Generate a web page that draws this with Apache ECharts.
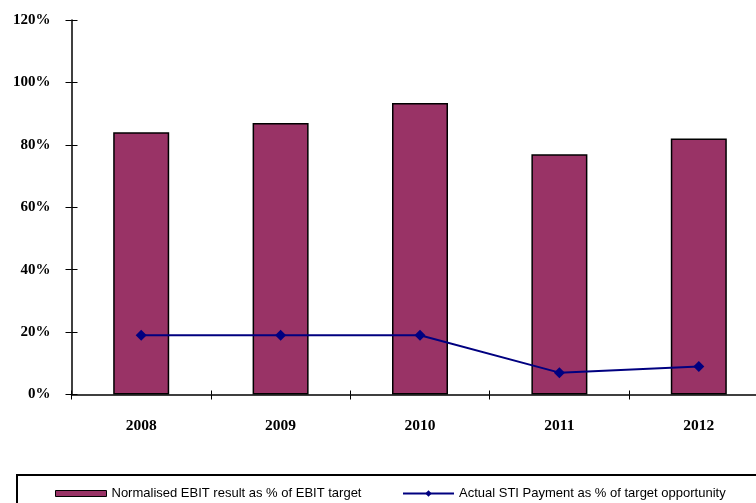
<!DOCTYPE html>
<html><head><meta charset="utf-8">
<script src="https://cdn.jsdelivr.net/npm/echarts@6/dist/echarts.min.js"></script>
<style>html,body{margin:0;padding:0;background:#fff}#c{width:756px;height:503px}</style>
</head><body><div id="c"></div>
<script>
const categories = ['2008','2009','2010','2011','2012'];
const ebitValues = [84, 87, 93.4, 77, 82];
const stiValues = [19, 19, 19, 7, 9];
const yTicks = [0, 20, 40, 60, 80, 100, 120];
const seriesNames = ['Normalised EBIT result as % of EBIT target', 'Actual STI Payment as % of target opportunity'];

const chart = echarts.init(document.getElementById('c'), null, {renderer:'canvas'});
const serif = '"Liberation Serif","Times New Roman",serif';
const sans = '"Liberation Sans",Arial,sans-serif';
const grid = {left:71.5, top:20, width:697, bottom:108.5, outerBoundsMode:'none', containLabel:false};
chart.setOption({
  animation:false,
  backgroundColor:'#fff',
  grid: grid,
  legend: [
    {data:[seriesNames[0]], left:50, top:482, itemWidth:51, itemHeight:6, icon:'rect',
     textStyle:{fontFamily:sans, fontSize:13, color:'#000'}, itemStyle:{borderColor:'#000', borderWidth:1}},
    {data:[seriesNames[1]], left:397, top:482, itemWidth:51, itemHeight:8,
     textStyle:{fontFamily:sans, fontSize:13, color:'#000'}}
  ],
  graphic:[{type:'rect', shape:{x:17, y:475, width:800, height:100}, style:{fill:'none', stroke:'#000', lineWidth:2}, silent:true}],
  xAxis:[
    {type:'category', data:categories, boundaryGap:true,
     axisLine:{lineStyle:{color:'#000', width:1.5}},
     axisTick:{show:true, alignWithLabel:false, length:5, lineStyle:{color:'#000'}},
     axisLabel:{fontFamily:serif, fontWeight:'bold', fontSize:15.5, color:'#000', margin:23}},
    {type:'category', data:categories, position:'bottom', boundaryGap:true,
     axisLine:{show:false}, axisTick:{show:true, inside:true, length:4, lineStyle:{color:'#000'}},
     axisLabel:{show:false}}
  ],
  yAxis:[
    {type:'value', min:0, max:120, interval:20,
     axisLine:{show:true, lineStyle:{color:'#000', width:1.5}},
     axisTick:{show:true, length:6, lineStyle:{color:'#000'}},
     splitLine:{show:false},
     axisLabel:{fontFamily:serif, fontWeight:'bold', fontSize:15, color:'#000', margin:21,
       formatter:v => yTicks.includes(v) ? v + '%' : ''}},
    {type:'value', min:0, max:120, interval:20, position:'left',
     axisLine:{show:false}, axisTick:{show:true, inside:true, length:6, lineStyle:{color:'#000'}},
     splitLine:{show:false}, axisLabel:{show:false}}
  ],
  series:[
    {name:seriesNames[0], type:'bar', data:ebitValues, barWidth:56,
     itemStyle:{color:'#993366', borderColor:'#000', borderWidth:1.5}},
    {name:seriesNames[1], type:'line', data:stiValues, symbol:'diamond', symbolSize:11,
     lineStyle:{color:'#000080', width:2}, itemStyle:{color:'#000080'}}
  ]
});
</script></body></html>
